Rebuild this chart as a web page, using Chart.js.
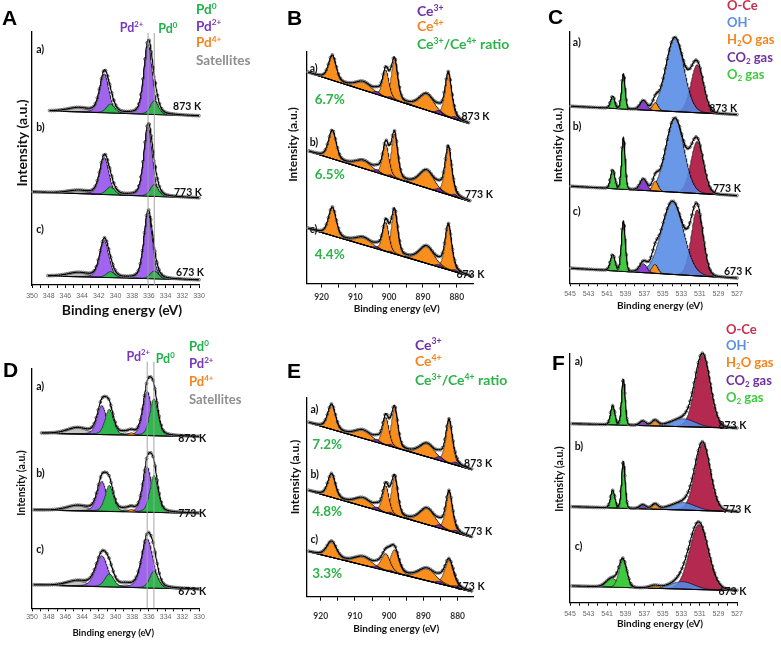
<!DOCTYPE html>
<html><head><meta charset="utf-8">
<script src="https://cdn.jsdelivr.net/npm/chart.js@4.4.0/dist/chart.umd.min.js"></script>
<style>
html,body{margin:0;padding:0;background:#fff;}
body{width:781px;height:646px;position:relative;overflow:hidden;font-family:Lato,"Open Sans",sans-serif;}
canvas{position:absolute;}
.lg{position:absolute;font-weight:bold;white-space:nowrap;line-height:1;font-family:Lato,sans-serif;}
.lg sup{font-size:62%;vertical-align:baseline;position:relative;top:-0.62em;line-height:1;}
.lg sub{font-size:62%;vertical-align:baseline;position:relative;top:0.28em;line-height:1;}
.pl{position:absolute;font-family:"Liberation Sans",Arial,sans-serif;font-weight:bold;font-size:21px;line-height:1;color:#000;}
</style></head><body>
<canvas id="cA" width="260" height="320" style="left:0px;top:0px"></canvas>
<canvas id="cB" width="260" height="320" style="left:260px;top:0px"></canvas>
<canvas id="cC" width="261" height="320" style="left:520px;top:0px"></canvas>
<canvas id="cD" width="260" height="326" style="left:0px;top:320px"></canvas>
<canvas id="cE" width="260" height="326" style="left:260px;top:320px"></canvas>
<canvas id="cF" width="261" height="326" style="left:520px;top:320px"></canvas>

<div class="pl" style="left:2px;top:7px">A</div>
<div class="pl" style="left:287px;top:7px">B</div>
<div class="pl" style="left:548px;top:6px">C</div>
<div class="pl" style="left:3px;top:359px">D</div>
<div class="pl" style="left:287px;top:360px">E</div>
<div class="pl" style="left:552px;top:352px">F</div>

<div class="lg" style="left:196px;top:3px;font-size:13.5px;color:#22b24c">Pd<sup>0</sup></div>
<div class="lg" style="left:196px;top:19.5px;font-size:13.5px;color:#7a36bd">Pd<sup>2+</sup></div>
<div class="lg" style="left:196px;top:36.3px;font-size:13.5px;color:#f5841f">Pd<sup>4+</sup></div>
<div class="lg" style="left:196px;top:53.8px;font-size:13.5px;color:#8e8e8e">Satellites</div>

<div class="lg" style="left:417px;top:4.3px;font-size:14px;color:#7030a0">Ce<sup>3+</sup></div>
<div class="lg" style="left:417px;top:19.3px;font-size:14px;color:#f5841f">Ce<sup>4+</sup></div>
<div class="lg" style="left:417px;top:37.3px;font-size:14px;color:#2db34a">Ce<sup>3+</sup>/Ce<sup>4+</sup> ratio</div>

<div class="lg" style="left:727px;top:-0.7px;font-size:13px;color:#c5304f">O-Ce</div>
<div class="lg" style="left:727px;top:15.9px;font-size:13px;color:#5b8fe0">OH<sup>-</sup></div>
<div class="lg" style="left:727px;top:33.2px;font-size:13px;color:#f5841f">H<sub>2</sub>O gas</div>
<div class="lg" style="left:727px;top:50.6px;font-size:13px;color:#7030a0">CO<sub>2</sub> gas</div>
<div class="lg" style="left:727px;top:68.1px;font-size:13px;color:#3fca3f">O<sub>2</sub> gas</div>

<div class="lg" style="left:189px;top:339.8px;font-size:13px;color:#22b24c">Pd<sup>0</sup></div>
<div class="lg" style="left:189px;top:357.4px;font-size:13px;color:#7a36bd">Pd<sup>2+</sup></div>
<div class="lg" style="left:189px;top:374.8px;font-size:13px;color:#f5841f">Pd<sup>4+</sup></div>
<div class="lg" style="left:189px;top:393.1px;font-size:13px;color:#8e8e8e">Satellites</div>

<div class="lg" style="left:415px;top:337.6px;font-size:14px;color:#7030a0">Ce<sup>3+</sup></div>
<div class="lg" style="left:415px;top:354.3px;font-size:14px;color:#f5841f">Ce<sup>4+</sup></div>
<div class="lg" style="left:415px;top:372.9px;font-size:14px;color:#2db34a">Ce<sup>3+</sup>/Ce<sup>4+</sup> ratio</div>

<div class="lg" style="left:726px;top:322.6px;font-size:13px;color:#c5304f">O-Ce</div>
<div class="lg" style="left:726px;top:339.1px;font-size:13px;color:#5b8fe0">OH<sup>-</sup></div>
<div class="lg" style="left:726px;top:355.6px;font-size:13px;color:#f5841f">H<sub>2</sub>O gas</div>
<div class="lg" style="left:726px;top:373.6px;font-size:13px;color:#7030a0">CO<sub>2</sub> gas</div>
<div class="lg" style="left:726px;top:391.1px;font-size:13px;color:#3fca3f">O<sub>2</sub> gas</div>

<script>
// ======================= DATA =======================
const spectra = ['a)', 'b)', 'c)'];
const temps = ['873 K', '773 K', '673 K'];

// ---- Panel A : Pd 3d ----
const A_majorTicks = [350, 348, 346, 344, 342, 340, 338, 336, 334, 332, 330];
const A_minorTicks = [349, 347, 345, 343, 341, 339, 337, 335, 333, 331];
const A_from = [347.9, 349.9, 348.1];
const A_to = [330, 330, 330];
const A_baseFrom = [174, 93, 9];
const A_baseTo = [169, 87, 5];
const A_kind = ['Pd2+', 'Pd2+', 'Pd0', 'Pd0', 'Sat'];
const A_center = [336.1, 341.35, 335.35, 340.6, 344.5];
const A_fwhm = [1.2, 1.3, 1.15, 1.2, 3.0];
const A_height_873 = [70, 39, 14, 9, 4];
const A_height_773 = [69, 37, 12, 8, 3];
const A_height_673 = [66, 37, 8, 6, 4];
const A_refLines = [336.1, 335.35];

// ---- Panel B : Ce 3d ----
const B_majorTicks = [920, 910, 900, 890, 880];
const B_minorTicks = [915, 905, 895, 885];
const B_from = [924.0, 923.7, 924.0];
const B_to = [876.5, 876.1, 875.8];
const B_baseFrom = [211, 132, 55];
const B_baseTo = [160, 82, 7];
const Ce_kind = ['Ce4+', 'Ce4+', 'Ce4+', 'Ce4+', 'Ce4+', 'Ce4+', 'Ce3+', 'Ce3+', 'Ce3+', 'Ce3+'];
const Ce_center = [916.8, 907.6, 901.0, 898.4, 888.9, 882.5, 903.6, 899.6, 885.2, 880.6];
const B_fwhm = [2.7, 5.5, 2.2, 2.2, 5.2, 2.3, 2.0, 1.5, 2.2, 1.8];
const B_height_873 = [25, 8, 27, 40, 16, 44, 3, 2, 3.5, 2.5];
const B_height_773 = [28.5, 7.5, 31, 44, 17.5, 48, 3, 2, 3.5, 2.5];
const B_height_673 = [28.5, 7, 29, 43, 17, 45, 2, 1.5, 2.5, 2];
const B_ratio = ['6.7%', '6.5%', '4.4%'];

// ---- Panel C : O 1s ----
const O_majorTicks = [545, 543, 541, 539, 537, 535, 533, 531, 529, 527];
const O_minorTicks = [544, 542, 540, 538, 536, 534, 532, 530, 528];
const C_from = [544.9, 544.9, 544.9];
const C_to = [527, 527, 527];
const C_baseFrom = [177, 97, 15];
const C_baseTo = [168.5, 87.5, 5];
const O_kind = ['O-Ce', 'OH-', 'H2O', 'CO2', 'O2', 'O2'];
const C_center_873 = [531.3, 533.7, 535.8, 537.1, 539.25, 540.4];
const C_center_773 = [531.3, 533.7, 535.8, 537.1, 539.25, 540.4];
const C_center_673 = [531.3, 533.95, 535.85, 537.1, 539.25, 540.4];
const C_fwhm_873 = [1.6, 2.3, 0.7, 0.85, 0.45, 0.55];
const C_fwhm_773 = [1.6, 2.3, 0.7, 0.85, 0.45, 0.55];
const C_fwhm_673 = [1.5, 2.8, 0.75, 0.9, 0.5, 0.6];
const C_height_873 = [48, 74, 8, 9, 35, 12];
const C_height_773 = [52, 74, 10, 11, 51.5, 19];
const C_height_673 = [66, 73, 9, 9, 50, 16];

// ---- Panel D : Pd 3d ----
const D_from = [348.85, 349.8, 349.8];
const D_to = [330, 330, 330];
const D_baseFrom = [175, 98.3, 23.3];
const D_baseTo = [171.6, 95, 19];
const D_kind = ['Pd2+', 'Pd2+', 'Pd0', 'Pd0', 'Sat', 'Pd4+', 'Sat'];
const D_center = [336.2, 341.65, 335.4, 340.75, 344.6, 338.1, 338.8];
const D_fwhm_873 = [1.25, 1.3, 1.15, 1.2, 3.0, 0.8, 1.5];
const D_fwhm_773 = [1.25, 1.3, 1.15, 1.2, 3.0, 0.8, 1.5];
const D_fwhm_673 = [1.6, 1.7, 1.2, 1.3, 3.0, 0.8, 1.5];
const D_height_873 = [44, 29, 37, 25.5, 6, 2.5, 2];
const D_height_773 = [45, 30, 37, 26, 5, 2.5, 2];
const D_height_673 = [49, 31, 17, 13, 5, 0, 2.5];
const D_refLines = [336.2, 335.4];

// ---- Panel E : Ce 3d ----
const E_from = [923.5, 923.5, 923.5];
const E_to = [875.9, 875.9, 875.9];
const E_baseFrom = [174, 106, 45];
const E_baseTo = [127, 59.4, 5];
const E_fwhm_873 = [2.7, 5.5, 2.2, 2.2, 5.2, 2.3, 2.0, 1.5, 2.2, 1.8];
const E_fwhm_773 = [2.7, 5.5, 2.2, 2.2, 5.2, 2.3, 2.0, 1.5, 2.2, 1.8];
const E_fwhm_673 = [3.4, 6.0, 3.0, 3.0, 6.0, 3.0, 2.2, 1.8, 2.5, 2.0];
const E_height_873 = [25, 8, 27.5, 39, 13, 43, 3, 2, 4, 3];
const E_height_773 = [23.5, 8, 27, 38, 16, 39, 3, 2, 3.5, 2.5];
const E_height_673 = [16, 8, 17, 23, 12, 26, 2, 1.5, 2.5, 2];
const E_ratio = ['7.2%', '4.8%', '3.3%'];

// ---- Panel F : O 1s ----
const F_from = [544.8, 544.8, 544.8];
const F_to = [527, 527, 527];
const F_baseFrom = [179, 96, 16.7];
const F_baseTo = [174.5, 91, 12];
const F_center_873 = [530.7, 532.8, 535.85, 537.15, 539.25, 540.4];
const F_center_773 = [530.7, 532.8, 535.85, 537.15, 539.25, 540.4];
const F_center_673 = [531.1, 532.9, 535.9, 537.15, 539.3, 540.5];
const F_fwhm_873 = [1.95, 3.0, 0.8, 0.8, 0.45, 0.55];
const F_fwhm_773 = [1.95, 3.0, 0.8, 0.8, 0.45, 0.55];
const F_fwhm_673 = [2.4, 3.0, 1.2, 0.8, 1.0, 1.4];
const F_height_873 = [72, 8, 5.5, 4.5, 46, 19];
const F_height_773 = [67, 7.5, 5, 4, 47, 17.5];
const F_height_673 = [65, 7.5, 2.5, 0, 28, 9];

// ======================= STYLE =======================
const KIND_COLOR = {
  'Pd0': '#2fb64c', 'Pd2+': '#a064ee', 'Pd4+': '#f58a1f', 'Sat': '#c6c6c6',
  'Ce4+': '#f98e1d', 'Ce3+': '#6f2c9f',
  'O-Ce': '#b3294f', 'OH-': 'rgba(84,138,230,0.88)', 'H2O': '#f4901e', 'CO2': '#8b3fd1', 'O2': '#3fca3f'
};
const KIND_RANK = { 'Pd4+': 0, 'Pd0': 1, 'Pd2+': 2, 'Sat': 3, 'Ce3+': 0, 'Ce4+': 1,
  'O2': 0, 'CO2': 1, 'H2O': 2, 'OH-': 3, 'O-Ce': 4 };

function pv(x, c, h, w, eta) {
  const d = (x - c) / w, d2 = 4 * d * d;
  return h * (eta / (1 + d2) + (1 - eta) * Math.exp(-Math.LN2 * d2));
}
function grid(a, b, step) {
  const n = Math.max(1, Math.round(Math.abs(b - a) / step)); const out = [];
  for (let i = 0; i <= n; i++) out.push(a + (b - a) * i / n);
  return out;
}
function buildDatasets(P) {
  const ds = [{ data: [], pointRadius: 0, borderWidth: 0, fill: false, order: 999 }];
  for (let s = 0; s < P.heights.length; s++) {
    const x0 = P.from[s], x1 = P.to[s];
    const base = x => P.baseFrom[s] + (P.baseTo[s] - P.baseFrom[s]) * (x - x0) / (x1 - x0);
    const xs = grid(x0, x1, P.step);
    const C = P.centers[s], W = P.fwhm[s], H = P.heights[s];
    const env = x => { let t = base(x); for (let k = 0; k < C.length; k++) t += pv(x, C[k], H[k], W[k], P.eta); return t; };
    const bIdx = ds.length;
    ds.push({ data: xs.map(x => ({ x, y: base(x) })), borderColor: '#000', borderWidth: 1, pointRadius: 0, fill: false, order: 5, clip: false });
    for (let k = 0; k < C.length; k++) {
      if (!(H[k] > 0)) continue;
      const kind = P.kinds[k];
      ds.push({ data: xs.map(x => ({ x, y: base(x) + pv(x, C[k], H[k], W[k], P.eta) })),
        borderColor: 'rgba(0,0,0,0.7)', borderWidth: 0.7, backgroundColor: KIND_COLOR[kind],
        fill: bIdx, pointRadius: 0, order: 10 + KIND_RANK[kind], clip: false });
    }
    ds.push({ data: xs.map(x => ({ x, y: env(x) })), borderColor: '#000', borderWidth: 1.1, pointRadius: 0, fill: false, order: 1, clip: false });
    ds.push({ data: grid(x0, x1, P.pstep).map(x => ({ x, y: env(x) })), showLine: false, pointRadius: 1.4,
      pointBorderWidth: 0.8, pointBorderColor: '#5e5e5e', pointBackgroundColor: 'rgba(200,200,200,0.7)', fill: false, order: 2, clip: false });
  }
  return ds;
}

function richParse(s) {
  const out = []; let i = 0, buf = '';
  while (i < s.length) {
    if ((s[i] === '^' || s[i] === '_') && s[i + 1] === '{') {
      if (buf) { out.push({ t: buf, m: 0 }); buf = ''; }
      const j = s.indexOf('}', i);
      out.push({ t: s.slice(i + 2, j), m: s[i] === '^' ? 1 : -1 });
      i = j + 1;
    } else { buf += s[i]; i++; }
  }
  if (buf) out.push({ t: buf, m: 0 });
  return out;
}
function drawRich(ctx, s, x, y, size, color, align, family) {
  const segs = richParse(s);
  const fnt = sz => 'bold ' + sz + 'px ' + (family || 'Lato');
  let w = 0;
  segs.forEach(g => { ctx.font = fnt(g.m ? size * 0.62 : size); g.w = ctx.measureText(g.t).width; w += g.w; });
  let cx = align === 'right' ? x - w : align === 'center' ? x - w / 2 : x;
  ctx.fillStyle = color; ctx.textBaseline = 'middle'; ctx.textAlign = 'left';
  segs.forEach(g => {
    ctx.font = fnt(g.m ? size * 0.62 : size);
    ctx.fillText(g.t, cx, y + (g.m === 1 ? -size * 0.32 : g.m === -1 ? size * 0.22 : 0));
    cx += g.w;
  });
}
function makeNotes(P) {
  return {
    id: 'notes',
    afterDraw(chart) {
      const ctx = chart.ctx, xs = chart.scales.x, ys = chart.scales.y;
      ctx.save();
      (P.vlines || []).forEach(l => {
        const px = xs.getPixelForValue(l.x);
        ctx.strokeStyle = 'rgba(160,160,160,0.8)'; ctx.lineWidth = 1.2;
        ctx.beginPath(); ctx.moveTo(px, ys.getPixelForValue(l.y0)); ctx.lineTo(px, ys.getPixelForValue(0)); ctx.stroke();
      });
      (P.notes || []).forEach(n => {
        drawRich(ctx, n.text, xs.getPixelForValue(n.x), ys.getPixelForValue(n.y), n.size, n.color, n.align || 'left');
      });
      const xt = P.xtitle; drawRich(ctx, 'Binding energy (eV)', xt.x, xt.y, xt.size, '#111', 'center');
      const yt = P.ytitle;
      ctx.translate(yt.x, yt.y); ctx.rotate(-Math.PI / 2);
      drawRich(ctx, 'Intensity (a.u.)', 0, 0, yt.size, '#111', 'center');
      ctx.restore();
    }
  };
}
function makeChart(id, P) {
  const major = P.major;
  new Chart(document.getElementById(id), {
    type: 'line',
    data: { datasets: buildDatasets(P) },
    options: {
      responsive: false, animation: false, devicePixelRatio: 1, events: [],
      layout: { padding: P.pad },
      plugins: { legend: { display: false }, tooltip: { enabled: false } },
      scales: {
        x: {
          type: 'linear', reverse: true, min: P.xMin, max: P.xMax,
          afterBuildTicks: s => { s.ticks = major.concat(P.minor).sort((a, b) => a - b).map(v => ({ value: v })); },
          afterFit: s => { s.height = P.Hx; },
          ticks: { autoSkip: false, maxRotation: 0, minRotation: 0, padding: P.tickPad,
            callback: v => major.indexOf(v) >= 0 ? String(v) : '',
            font: P.tickFont, color: P.tickColor },
          grid: { display: true, drawOnChartArea: false, drawTicks: true, tickLength: P.tickLen, color: '#000', lineWidth: 1 },
          border: { display: true, color: '#000', width: 1.3 },
          title: { display: false }
        },
        y: {
          type: 'linear', min: 0, max: P.yMax,
          afterFit: s => { s.width = 1; },
          ticks: { display: false }, grid: { display: false, drawTicks: false },
          border: { display: true, color: '#000', width: 1.3 }, title: { display: false }
        }
      }
    },
    plugins: [makeNotes(P)]
  });
}
function stdNotes(specPos, tempPos, size) {
  const out = [];
  for (let i = 0; i < 3; i++) {
    out.push({ text: spectra[i], x: specPos[i][0], y: specPos[i][1], size: size, color: '#111' });
    out.push({ text: temps[i], x: tempPos[i][0], y: tempPos[i][1], size: size, color: '#111' });
  }
  return out;
}
const smallTick = { family: 'Liberation Sans', size: 7 };
const boldTick = { family: 'Lato', size: 8.5, weight: 'bold' };

function build() {
  // Panel A
  const nA = stdNotes([[349.5, 235], [349.5, 157], [349.5, 55]], [[333.1, 178], [333.0, 92], [332.75, 12]], 10.5);
  nA.push({ text: 'Pd^{2+}', x: 336.67, y: 257, size: 12.5, color: '#7a36bd', align: 'right' });
  nA.push({ text: 'Pd^{0}', x: 334.87, y: 256, size: 12.5, color: '#22b24c' });
  makeChart('cA', {
    from: A_from, to: A_to, baseFrom: A_baseFrom, baseTo: A_baseTo, kinds: A_kind,
    centers: [A_center, A_center, A_center], fwhm: [A_fwhm, A_fwhm, A_fwhm],
    heights: [A_height_873, A_height_773, A_height_673], eta: 0.3, step: 0.05, pstep: 0.25,
    xMin: 330, xMax: 350, major: A_majorTicks, minor: A_minorTicks, yMax: 253,
    pad: { left: 31, right: 61, top: 32, bottom: 0 }, Hx: 35, tickLen: 3, tickPad: 3.8, tickFont: smallTick, tickColor: '#666',
    notes: nA, vlines: A_refLines.map(v => ({ x: v, y0: 252 })),
    xtitle: { x: 122, y: 310, size: 14 }, ytitle: { x: 22, y: 143, size: 14 }
  });
  // Panel B
  const nB = stdNotes([[923.5, 215], [923.5, 140.5], [923.5, 53.5]], [[878.6, 166.8], [877.6, 88.5], [880.1, 8.5]], 10.5);
  [[922, 184], [922, 108.5], [922, 28.5]].forEach((p, i) => nB.push({ text: B_ratio[i], x: p[0], y: p[1], size: 13.5, color: '#2db34a' }));
  makeChart('cB', {
    from: B_from, to: B_to, baseFrom: B_baseFrom, baseTo: B_baseTo, kinds: Ce_kind,
    centers: [Ce_center, Ce_center, Ce_center], fwhm: [B_fwhm, B_fwhm, B_fwhm],
    heights: [B_height_873, B_height_773, B_height_673], eta: 0.35, step: 0.1, pstep: 0.6,
    xMin: 875.2, xMax: 924.3, major: B_majorTicks, minor: B_minorTicks, yMax: 231.5,
    pad: { left: 46, right: 47, top: 52, bottom: 0 }, Hx: 36.5, tickLen: 4, tickPad: 4.4, tickFont: boldTick, tickColor: '#333',
    notes: nB, xtitle: { x: 136.7, y: 309, size: 10 }, ytitle: { x: 33, y: 144.5, size: 12 }
  });
  // Panel C
  makeChart('cC', {
    from: C_from, to: C_to, baseFrom: C_baseFrom, baseTo: C_baseTo, kinds: O_kind,
    centers: [C_center_873, C_center_773, C_center_673], fwhm: [C_fwhm_873, C_fwhm_773, C_fwhm_673],
    heights: [C_height_873, C_height_773, C_height_673], eta: 0.06, step: 0.04, pstep: 0.22,
    xMin: 527, xMax: 545, major: O_majorTicks, minor: O_minorTicks, yMax: 251.3,
    pad: { left: 49, right: 44, top: 32, bottom: 0 }, Hx: 36.7, tickLen: 3, tickPad: 3.8, tickFont: smallTick, tickColor: '#666',
    notes: stdNotes([[544.7, 240.6], [544.7, 156.6], [544.7, 71.6]], [[530.0, 175], [529.6, 95], [528.4, 11.6]], 10.5),
    xtitle: { x: 140, y: 305.7, size: 10 }, ytitle: { x: 38.3, y: 145, size: 12 }
  });
  // Panel D
  const nD = stdNotes([[349.5, 221.6], [349.5, 135], [349.5, 58.3]], [[332.5, 170], [332.5, 94.3], [332.5, 16.6]], 10.5);
  nD.push({ text: 'Pd^{2+}', x: 335.87, y: 251.6, size: 12.5, color: '#7a36bd', align: 'right' });
  nD.push({ text: 'Pd^{0}', x: 335.19, y: 249, size: 12.5, color: '#22b24c' });
  makeChart('cD', {
    from: D_from, to: D_to, baseFrom: D_baseFrom, baseTo: D_baseTo, kinds: D_kind,
    centers: [D_center, D_center, D_center], fwhm: [D_fwhm_873, D_fwhm_773, D_fwhm_673],
    heights: [D_height_873, D_height_773, D_height_673], eta: 0.3, step: 0.05, pstep: 0.25,
    xMin: 330, xMax: 350, major: A_majorTicks, minor: A_minorTicks, yMax: 240,
    pad: { left: 31, right: 61, top: 48.3, bottom: 0 }, Hx: 37.7, tickLen: 3, tickPad: 1.5, tickFont: smallTick, tickColor: '#666',
    notes: nD, vlines: D_refLines.map(v => ({ x: v, y0: 246.6 })),
    xtitle: { x: 113.3, y: 313.3, size: 9.5 }, ytitle: { x: 22, y: 163, size: 10.5 }
  });
  // Panel E
  const nE = stdNotes([[923, 186.7], [923, 121.7], [923, 56.7]], [[878.1, 132.7], [878.1, 65], [880.3, 10]], 10.5);
  [[922.5, 151.7], [922.5, 85], [922.5, 23.4]].forEach((p, i) => nE.push({ text: E_ratio[i], x: p[0], y: p[1], size: 13.5, color: '#2db34a' }));
  makeChart('cE', {
    from: E_from, to: E_to, baseFrom: E_baseFrom, baseTo: E_baseTo, kinds: Ce_kind,
    centers: [Ce_center, Ce_center, Ce_center], fwhm: [E_fwhm_873, E_fwhm_773, E_fwhm_673],
    heights: [E_height_873, E_height_773, E_height_673], eta: 0.35, step: 0.1, pstep: 0.6,
    xMin: 875.5, xMax: 924, major: B_majorTicks, minor: B_minorTicks, yMax: 198.7,
    pad: { left: 46, right: 47, top: 78, bottom: 0 }, Hx: 49.3, tickLen: 4, tickPad: 10.2, tickFont: boldTick, tickColor: '#333',
    notes: nE, xtitle: { x: 136.3, y: 308.3, size: 10 }, ytitle: { x: 35, y: 157, size: 12 }
  });
  // Panel F
  makeChart('cF', {
    from: F_from, to: F_to, baseFrom: F_baseFrom, baseTo: F_baseTo, kinds: O_kind,
    centers: [F_center_873, F_center_773, F_center_673], fwhm: [F_fwhm_873, F_fwhm_773, F_fwhm_673],
    heights: [F_height_873, F_height_773, F_height_673], eta: 0.06, step: 0.04, pstep: 0.22,
    xMin: 527, xMax: 545, major: O_majorTicks, minor: O_minorTicks, yMax: 249.4,
    pad: { left: 49, right: 44, top: 33.3, bottom: 0 }, Hx: 43.3, tickLen: 3, tickPad: 4.1, tickFont: smallTick, tickColor: '#666',
    notes: stdNotes([[544.5, 241], [544.5, 156], [544.5, 56]], [[529.0, 176.7], [528.5, 92.7], [529.0, 11]], 10.5),
    xtitle: { x: 140, y: 304, size: 10 }, ytitle: { x: 39.3, y: 159, size: 10.5 }
  });
}
(document.fonts && document.fonts.load ? Promise.all([document.fonts.load('bold 12px Lato'), document.fonts.load('12px "Liberation Sans"')]).catch(() => {}) : Promise.resolve()).then(build);
</script>
</body></html>
